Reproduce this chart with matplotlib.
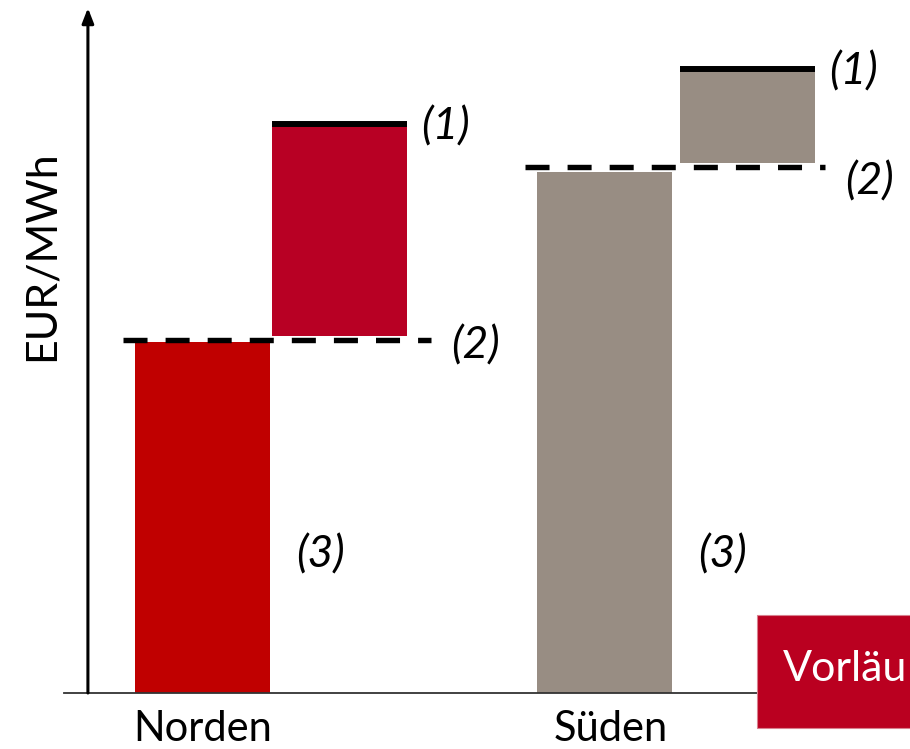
import matplotlib.pyplot as plt
from matplotlib.patches import Rectangle

# values in EUR/MWh (arbitrary scale)
regions = ["Norden", "Süden"]
base_price = [35.1, 52.1]      # (3) bar height
level_2 = [35.3, 52.6]         # dashed line (2)
step_low = [35.7, 53.0]        # bottom of upper block
level_1 = [56.9, 62.4]         # black line (1)

base_colors = ["#C00000", "#988D83"]
step_colors = ["#B80024", "#988D83"]

plt.rcParams['font.family'] = ['Lato', 'DejaVu Sans']
plt.rcParams['lines.scale_dashes'] = False

fig = plt.figure(figsize=(9.10, 7.49), dpi=100)
W, H = 910, 749
ax = fig.add_axes([64 / W, (H - 693) / H, (910 - 64) / W, 693 / H])

width = 0.336
offset = 0.34
dash_left = [0.198, 0.198]
dash_right_extra = [0.06, 0.025]
lbl2_dx = [0.11, 0.075]
lbl2_dy = [-0.6, -1.5]
xs = list(range(len(regions)))

for i, x in enumerate(xs):
    xl = x + offset + 0.015 * i
    ax.bar(x, base_price[i], width=width, color=base_colors[i], align='center', zorder=2)
    ax.bar(xl, level_1[i] - step_low[i], bottom=step_low[i], width=width,
           color=step_colors[i], align='center', zorder=2)
    # black top line (1)
    ax.hlines(level_1[i], xl - width / 2, xl + width / 2, color='black', lw=4.3, zorder=3,
              capstyle='butt')
    # dashed line (2)
    ax.hlines(level_2[i], x - dash_left[i], xl + width / 2 + dash_right_extra[i],
              color='black', lw=3.9, linestyles=[(0, (17.3, 13))], zorder=4)
    # labels
    ax.text(xl + width / 2 + 0.035, level_1[i] - 0.3, "(1)", style='italic', fontsize=32,
            ha='left', va='center')
    ax.text(xl + width / 2 + lbl2_dx[i], level_2[i] + lbl2_dy[i], "(2)", style='italic',
            fontsize=32, ha='left', va='center')
    ax.text(x + width / 2 + 0.065, 13.8, "(3)", style='italic', fontsize=32,
            ha='left', va='center')

ax.set_xlim(-0.3445, 1.76)
ax.set_ylim(0, 69.3)

# y axis as arrow
ax_x = -0.285
ax.annotate("", xy=(ax_x, 68.5), xytext=(ax_x, 0),
            arrowprops=dict(arrowstyle='-|>,head_width=0.35,head_length=0.9', lw=2.2,
                            color='black', shrinkA=0, shrinkB=0))

for s in ['top', 'right', 'left']:
    ax.spines[s].set_visible(False)
ax.spines['bottom'].set_color('#333333')
ax.spines['bottom'].set_linewidth(1.3)
ax.set_yticks([])
ax.set_xticks([0, 1.015])
ax.set_xticklabels(regions, fontsize=30)
ax.tick_params(axis='x', length=0, pad=12)

fig.text(42 / W, 1 - 256 / H, "EUR/MWh", rotation=90, fontsize=31, ha='center', va='center')

# "Vorläufig" badge, cut at the right edge
fig.patches.append(Rectangle((757 / W, (H - 728) / H), 200 / W, 113 / H,
                             transform=fig.transFigure, facecolor='#BA0020',
                             edgecolor='#D9808F', lw=0.8))
fig.text(783 / W, 1 - 669 / H, "Vorläu", color='white', fontsize=31, ha='left', va='center')

fig.savefig("out.png", dpi=100)
